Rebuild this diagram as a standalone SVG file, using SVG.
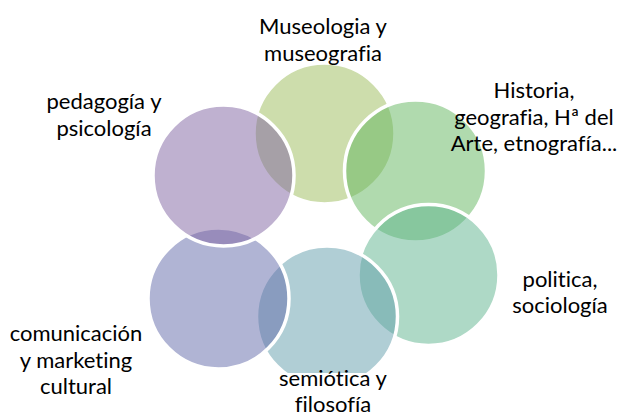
<svg xmlns="http://www.w3.org/2000/svg" width="622" height="417" viewBox="0 0 622 417">
  <style>
    .c { stroke: #ffffff; stroke-width: 3.5; fill-opacity: 0.5; }
    .t { font-family: Lato, "Open Sans", "Liberation Sans", sans-serif; font-size: 22px; fill: #000000; text-anchor: middle; font-variant-ligatures: none; }
  </style>
  <rect x="0" y="0" width="622" height="417" fill="#ffffff"/>
  <g id="connectors"></g>
  <g id="node-museologia">
    <circle class="c" cx="324.5" cy="133.5" r="70.5" fill="#9BBB59"/>
    <text class="t" x="323" y="34">Museologia y</text>
    <text class="t" x="323" y="60.5">museografia</text>
  </g>
  <g id="node-historia">
    <circle class="c" cx="415.5" cy="171" r="71" fill="#61B55D"/>
    <text class="t" x="534" y="98">Historia,</text>
    <text class="t" x="534" y="124.5">geografia, Hª del</text>
    <text class="t" x="534" y="151">Arte, etnografía...</text>
  </g>
  <g id="node-politica">
    <circle class="c" cx="428.5" cy="275" r="70.5" fill="#5DB38D"/>
    <text class="t" x="560" y="286.5">politica,</text>
    <text class="t" x="560" y="313">sociología</text>
  </g>
  <g id="node-semiotica">
    <circle class="c" cx="327" cy="316.5" r="70.5" fill="#619DAB"/>
    <rect x="270" y="373" width="126" height="44" fill="#ffffff"/>
    <text class="t" x="333" y="385.5">semiótica y</text>
    <text class="t" x="333" y="412">filosofía</text>
  </g>
  <g id="node-comunicacion">
    <circle class="c" cx="218.5" cy="298.5" r="70.5" fill="#6169A9"/>
    <text class="t" x="76" y="341">comunicación</text>
    <text class="t" x="76" y="367.5">y marketing</text>
    <text class="t" x="76" y="394">cultural</text>
  </g>
  <g id="node-pedagogia">
    <circle class="c" cx="223.5" cy="175.5" r="70.5" fill="#8064A2"/>
    <text class="t" x="104" y="109">pedagogía y</text>
    <text class="t" x="104" y="135.5">psicología</text>
  </g>
</svg>
